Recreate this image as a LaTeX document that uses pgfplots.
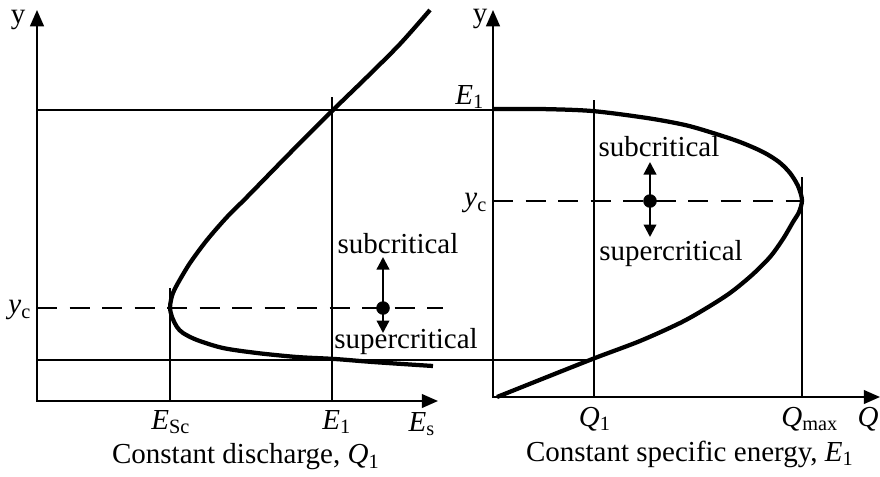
\documentclass[border=0pt]{standalone}
\usepackage{fontspec}
\setmainfont{Liberation Serif}
\usepackage{pgfplots}
\pgfplotsset{compat=1.18}
\usetikzlibrary{arrows.meta}

\tikzset{lab/.style={font=\fontsize{11.6}{14}\selectfont, inner sep=0pt}}

\begin{document}
\begin{tikzpicture}
\begin{axis}[
    x=0.4pt, y=0.4pt,
    xmin=0, xmax=880, ymin=0, ymax=476,
    hide axis, clip=false,
    thinline/.style={black, line width=0.55pt},
    curve/.style={black, line width=1.7pt, smooth, tension=0.5},
    axisline/.style={black, line width=0.8pt},
]
\coordinate (ll) at (axis cs:0,0);
\coordinate (ur) at (axis cs:880,476);

% guide lines shared by both panels
\addplot[thinline] coordinates {(37,366) (493,366)};
\addplot[thinline] coordinates {(37,116) (595,116)};

% ---- left panel: constant discharge ----
\addplot[axisline, {Triangle[width=5.5pt,length=6.5pt]}-{Triangle[width=5.5pt,length=6.5pt]}]
    coordinates {(37,466) (37,75) (438,75)};
\addplot[thinline] coordinates {(170,188) (170,75)};
\addplot[thinline] coordinates {(332,379) (332,75)};
\addplot[black, line width=0.6pt, dash pattern=on 8pt off 5pt]
    coordinates {(37,168) (443,168)};
\addplot[curve] coordinates {
    (430,466) (400,432) (367,399) (332,365) (290,323) (247,279)
    (227,259) (207,236) (190,213) (178,193) (173,183) (171,176) (170,168)
    (172,159) (177,149) (183,143) (197,136) (223,128) (257,123)
    (297,119) (335,117) (373,114) (433,110)};
\addplot[black, line width=0.9pt, -{Triangle[width=5pt,length=5pt]}]
    coordinates {(383,168) (383,219)};
\addplot[black, line width=0.9pt, -{Triangle[width=5pt,length=5pt]}]
    coordinates {(383,168) (383,143)};
\addplot[only marks, mark=*, mark size=2.5pt, black] coordinates {(383,168)};

\node[lab] at (axis cs:398,232) {subcritical};
\node[lab] at (axis cs:406,134) {supercritical};
\node[lab] at (axis cs:18,456) {y};
\node[lab] at (axis cs:20,166) {\textit{y}\textsubscript{c}};
\node[lab] at (axis cs:171,54) {\textit{E}\textsubscript{Sc}};
\node[lab] at (axis cs:337,54) {\textit{E}\textsubscript{1}};
\node[lab] at (axis cs:422,52) {\textit{E}\textsubscript{s}};
\node[lab] at (axis cs:246,19) {Constant discharge, \textit{Q}\textsubscript{1}};

% ---- right panel: constant specific energy ----
\addplot[axisline, {Triangle[width=5.5pt,length=6.5pt]}-{Triangle[width=5.5pt,length=6.5pt]}]
    coordinates {(493,466) (493,79) (880,79)};
\addplot[thinline] coordinates {(594,376) (594,79)};
\addplot[thinline] coordinates {(802,299) (802,79)};
\addplot[black, line width=0.6pt, dash pattern=on 8pt off 5pt]
    coordinates {(493,275) (802,275)};
\addplot[curve] coordinates {
    (493,367) (540,367) (592,365) (647,358) (685,351) (713,343) (740,334)
    (763,324) (779,314) (790,303) (798,290) (802,276)
    (799,264) (793,254) (783,237) (770,219) (752,201) (730,183) (705,167)
    (680,153) (640,135) (595,118) (547,99) (497,79)};
\addplot[black, line width=0.9pt, -{Triangle[width=5pt,length=5pt]}]
    coordinates {(650,275) (650,314)};
\addplot[black, line width=0.9pt, -{Triangle[width=5pt,length=5pt]}]
    coordinates {(650,275) (650,239)};
\addplot[only marks, mark=*, mark size=2.5pt, black] coordinates {(650,275)};

\node[lab] at (axis cs:659,329) {subcritical};
\node[lab] at (axis cs:671,222) {supercritical};
\node[lab] at (axis cs:480,457) {y};
\node[lab] at (axis cs:470,379) {\textit{E}\textsubscript{1}};
\node[lab] at (axis cs:476,273) {\textit{y}\textsubscript{c}};
\node[lab] at (axis cs:595,57) {\textit{Q}\textsubscript{1}};
\node[lab] at (axis cs:810,57) {\textit{Q}\textsubscript{max}};
\node[lab, anchor=east] at (axis cs:879,57) {\textit{Q}};
\node[lab] at (axis cs:690,22) {Constant specific energy, \textit{E}\textsubscript{1}};
\end{axis}
\pgfresetboundingbox
\path (ll) rectangle (ur);
\end{tikzpicture}
\end{document}
